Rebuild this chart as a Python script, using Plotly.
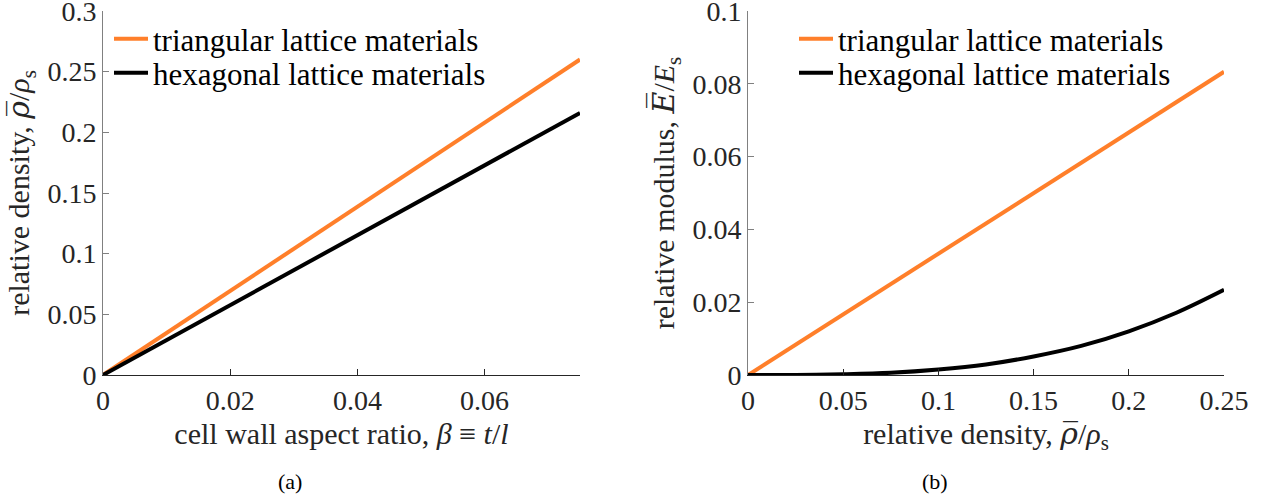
import plotly.graph_objects as go

# ---- data ----
aspect_ratio = [0.0, 0.075]
density_triangular = [0.0, 0.26]
density_hexagonal = [0.0, 0.216]

rel_density = [0.0, 0.025, 0.05, 0.075, 0.10, 0.125, 0.15, 0.175, 0.20, 0.225, 0.25]
modulus_triangular = [0.0, 0.0083, 0.0167, 0.025, 0.0333, 0.0417, 0.05, 0.0583, 0.0667, 0.075, 0.0833]
modulus_hexagonal = [0.0, 0.00002, 0.0002, 0.0006, 0.0015, 0.0029, 0.0051, 0.0080, 0.0120, 0.0171, 0.0234]

left_xticks = [0, 0.02, 0.04, 0.06]
left_yticks = [0, 0.05, 0.1, 0.15, 0.2, 0.25, 0.3]
right_xticks = [0, 0.05, 0.1, 0.15, 0.2, 0.25]
right_yticks = [0, 0.02, 0.04, 0.06, 0.08, 0.1]

ORANGE = "#ff7f2a"
BLACK = "#000000"
FONT = "Liberation Serif"
TXT = "#262626"

W, H = 1266, 497
fig = go.Figure()

fig.add_trace(go.Scatter(x=aspect_ratio, y=density_triangular, mode="lines",
                         line=dict(color=ORANGE, width=4), name="triangular lattice materials",
                         xaxis="x", yaxis="y", legend="legend"))
fig.add_trace(go.Scatter(x=aspect_ratio, y=density_hexagonal, mode="lines",
                         line=dict(color=BLACK, width=4), name="hexagonal lattice materials",
                         xaxis="x", yaxis="y", legend="legend2"))
fig.add_trace(go.Scatter(x=rel_density, y=modulus_triangular, mode="lines",
                         line=dict(color=ORANGE, width=4), name="triangular lattice materials",
                         xaxis="x2", yaxis="y2", legend="legend3"))
fig.add_trace(go.Scatter(x=rel_density, y=modulus_hexagonal, mode="lines", line_shape="spline",
                         line=dict(color=BLACK, width=4), name="hexagonal lattice materials",
                         xaxis="x2", yaxis="y2", legend="legend4"))

ydom = [(H - 375) / H, (H - 11) / H]
axis_common = dict(showgrid=False, zeroline=False, showline=True, ticks="inside", ticklen=6,
                   tickfont=dict(family=FONT, size=28, color=TXT), mirror=False, automargin=False,
                   ticklabeloverflow="allow")
TF = dict(family=FONT, size=30, color=TXT)
DJ = '<span style="font-family:DejaVu Serif">%s</span>'
rho_label = "relative density, <i>" + (DJ % "ρ\u0305") + "</i>/<i>ρ</i><sub>s</sub>"
E_label = "relative modulus, <i>" + (DJ % "E\u0305") + "</i>/<i>E</i><sub>s</sub>"

def leg(x, y):
    return dict(x=x / W, y=1 - y / H, xanchor="left", yanchor="middle",
                bgcolor="rgba(0,0,0,0)", font=dict(family=FONT, size=31, color="#000"),
                itemwidth=34, borderwidth=0)

fig.update_layout(
    width=W, height=H, margin=dict(l=0, r=0, t=0, b=0, autoexpand=False),
    paper_bgcolor="white", plot_bgcolor="white", showlegend=True,
    font=dict(family=FONT, color=TXT),
    xaxis=dict(domain=[103 / W, 580 / W], range=[0, 0.075], tickvals=left_xticks,
               ticktext=["0", "0.02", "0.04", "0.06"], linecolor=TXT, tickcolor=TXT,
               title=dict(text="cell wall aspect ratio, <i>β</i> ≡ <i>t</i>/<i>l</i>",
                          font=TF, standoff=8),
               anchor="y", **axis_common),
    yaxis=dict(domain=ydom, range=[0, 0.3], tickvals=left_yticks,
               ticktext=["0", "0.05", "0.1", "0.15", "0.2", "0.25", "0.3"],
               linecolor="#808080", tickcolor="#808080",
               title=dict(text=rho_label, font=TF, standoff=8),
               anchor="x", **axis_common),
    xaxis2=dict(domain=[748 / W, 1224 / W], range=[0, 0.25], tickvals=right_xticks,
                ticktext=["0", "0.05", "0.1", "0.15", "0.2", "0.25"], linecolor=TXT, tickcolor=TXT,
                title=dict(text=rho_label, font=TF, standoff=8),
                anchor="y2", **axis_common),
    yaxis2=dict(domain=ydom, range=[0, 0.1], tickvals=right_yticks,
                ticktext=["0", "0.02", "0.04", "0.06", "0.08", "0.1"],
                linecolor="#808080", tickcolor="#808080",
                title=dict(text=E_label, font=TF, standoff=8),
                anchor="x2", **axis_common),
    legend=leg(109, 39),
    legend2=leg(109, 73),
    legend3=leg(794, 39),
    legend4=leg(794, 73),
    annotations=[
        dict(text="(a)", x=290 / W, y=1 - 481 / H, xref="paper", yref="paper", showarrow=False,
             font=dict(family=FONT, size=22, color="#000"), xanchor="center", yanchor="middle"),
        dict(text="(b)", x=935 / W, y=1 - 481 / H, xref="paper", yref="paper", showarrow=False,
             font=dict(family=FONT, size=22, color="#000"), xanchor="center", yanchor="middle"),
    ],
)

fig.write_html("out.html")
